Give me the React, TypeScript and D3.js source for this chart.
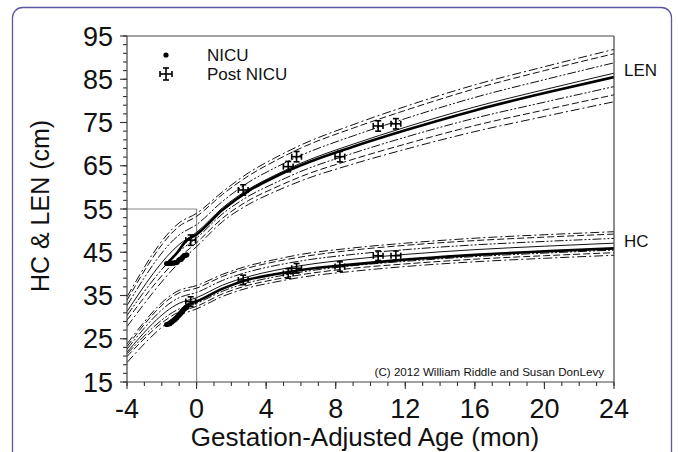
import React from "react";
import * as d3 from "d3";

// ---- Data ----
const pctAges = [-4, -1, 0, 1.5, 3, 4.5, 6, 9, 12, 16, 20, 24];

const len97 = [34.7, 51.8, 54.0, 59.0, 63.4, 66.8, 69.8, 74.5, 78.7, 83.7, 87.9, 91.9];
const len90 = [33.9, 51.0, 53.3, 58.4, 62.7, 66.1, 69.1, 73.7, 77.8, 82.8, 87.0, 90.9];
const len75 = [32.7, 49.0, 51.4, 56.8, 61.2, 64.5, 67.4, 71.9, 75.9, 80.8, 84.9, 88.8];
const len50 = [31.3, 46.8, 49.6, 55.3, 59.6, 62.8, 65.6, 70.0, 73.9, 78.6, 82.6, 86.4];
const len25 = [30.4, 45.2, 48.3, 53.9, 58.0, 61.0, 63.7, 67.9, 71.6, 76.0, 79.7, 83.3];
const len10 = [29.3, 43.8, 47.2, 52.9, 57.0, 59.9, 62.5, 66.5, 70.0, 74.3, 77.9, 81.4];
const len3 = [27.8, 42.6, 46.3, 52.1, 56.1, 59.0, 61.5, 65.4, 68.8, 72.9, 76.4, 79.8];

const hc97 = [23.8, 36.2, 37.3, 39.9, 41.9, 43.3, 44.5, 46.0, 47.1, 48.25, 49.05, 49.75];
const hc90 = [23.2, 35.6, 36.7, 39.4, 41.4, 42.8, 43.9, 45.5, 46.6, 47.7, 48.5, 49.2];
const hc75 = [22.6, 34.5, 35.7, 38.5, 40.5, 41.9, 43.0, 44.5, 45.6, 46.7, 47.5, 48.2];
const hc50 = [21.9, 33.2, 34.5, 37.4, 39.4, 40.8, 41.9, 43.4, 44.5, 45.6, 46.4, 47.1];
const hc25 = [21.5, 31.9, 33.2, 36.0, 38.0, 39.3, 40.4, 41.9, 42.9, 44.0, 44.8, 45.5];
const hc10 = [20.9, 31.2, 32.5, 35.4, 37.4, 38.7, 39.8, 41.3, 42.3, 43.4, 44.2, 44.9];
const hc3 = [19.5, 30.4, 31.9, 34.8, 36.8, 38.1, 39.2, 40.6, 41.7, 42.8, 43.6, 44.3];

// patient fitted curves (thick)
const fitAges = [-1.72, -1.2, -0.6, 0, 1.5, 3, 4.5, 6, 9, 12, 16, 20, 24];
const lenFit = [42.4, 44.5, 47.6, 49.1, 54.8, 59.2, 62.4, 65.1, 69.4, 73.2, 77.8, 81.8, 85.5];
const hcFit = [28.4, 30.1, 32.7, 33.6, 36.6, 38.7, 39.9, 40.9, 42.2, 43.3, 44.4, 45.2, 45.9];

// NICU daily measurements
const nicuAges = [-1.72, -1.62, -1.52, -1.42, -1.32, -1.22, -1.12, -1.02, -0.95, -0.88, -0.8, -0.72, -0.64, -0.56];
const nicuLen = [42.4, 42.4, 42.4, 42.5, 42.5, 42.6, 42.7, 43.2, 43.3, 43.4, 43.8, 44.2, 44.3, 44.4];
const nicuHc = [28.3, 28.4, 28.5, 28.9, 29.2, 29.5, 29.9, 30.4, 30.7, 31.0, 31.4, 31.8, 32.1, 32.3];

// Post NICU visits
const postAges = [-0.34, 2.68, 5.27, 5.75, 8.24, 10.44, 11.46];
const postLen = [47.8, 59.4, 64.8, 67.1, 67.1, 74.2, 74.7];
const postHc = [33.6, 38.6, 40.1, 41.3, 41.7, 44.2, 44.2];
const postAgeErr = [0.28, 0.28, 0.28, 0.28, 0.28, 0.28, 0.28];
const postLenErr = [1.2, 1.2, 1.2, 1.2, 1.2, 1.2, 1.2];
const postHcErr = [1.1, 1.1, 1.1, 1.1, 1.1, 1.1, 1.1];

const xTicks = [-4, 0, 4, 8, 12, 16, 20, 24];
const yTicks = [15, 25, 35, 45, 55, 65, 75, 85, 95];

const refAge = 0;
const refCm = 55;

// ---- Styles ----
const DASH_DOT = "9,3,2,3";
const DASHED = "7,3";
const DASH_DOT_DOT = "9,2,2,2,2,2";

const pctLines = [
  { len: len97, hc: hc97, dash: DASH_DOT },
  { len: len90, hc: hc90, dash: DASHED },
  { len: len75, hc: hc75, dash: DASH_DOT_DOT },
  { len: len50, hc: hc50, dash: null },
  { len: len25, hc: hc25, dash: DASH_DOT_DOT },
  { len: len10, hc: hc10, dash: DASHED },
  { len: len3, hc: hc3, dash: DASH_DOT },
];

const W = 678;
const H = 452;
const X0 = 127, X1 = 614, Y0 = 382, Y1 = 36;
const FONT = "'Liberation Sans', Arial, sans-serif";

export default function App() {
  const x = d3.scaleLinear().domain([-4, 24]).range([X0, X1]);
  const y = d3.scaleLinear().domain([15, 95]).range([Y0, Y1]);
  const line = d3
    .line<[number, number]>()
    .x((d) => x(d[0]))
    .y((d) => y(d[1]))
    .curve(d3.curveMonotoneX);

  const zip = (a: number[], b: number[]) => a.map((v, i) => [v, b[i]] as [number, number]);

  const xMinor = d3.range(-4, 24.001, 1);
  const yMinor = d3.range(15, 95.001, 2);

  const cross = (cx: number, cy: number, ex: number, ey: number, key: string) => {
    const px = x(cx), py = y(cy);
    const l = x(cx - ex), r = x(cx + ex);
    const t = y(cy + ey), b = y(cy - ey);
    const c = 3;
    return (
      <g key={key} stroke="#000" strokeWidth={1.6} fill="none">
        <line x1={l} x2={r} y1={py} y2={py} />
        <line x1={px} x2={px} y1={t} y2={b} />
        <line x1={l} x2={l} y1={py - c} y2={py + c} />
        <line x1={r} x2={r} y1={py - c} y2={py + c} />
        <line x1={px - c} x2={px + c} y1={t} y2={t} />
        <line x1={px - c} x2={px + c} y1={b} y2={b} />
      </g>
    );
  };

  return (
    <svg
      width={W}
      height={H}
      style={{ position: "absolute", left: 0, top: 0, background: "#fff" }}
      fontFamily={FONT}
    >
      <rect x={0} y={0} width={W} height={H} fill="#fff" />
      <rect x={12.5} y={7.5} width={659} height={470} rx={10} ry={10} fill="none" stroke="#5a58a0" strokeWidth={1.3} />

      <defs>
        <clipPath id="plot">
          <rect x={X0} y={Y1} width={X1 - X0} height={Y0 - Y1} />
        </clipPath>
      </defs>

      {/* reference lines */}
      <g stroke="#8a8a8a" strokeWidth={1.2}>
        <line x1={X0} x2={x(refAge)} y1={y(refCm)} y2={y(refCm)} />
        <line x1={x(refAge)} x2={x(refAge)} y1={y(refCm)} y2={Y0} />
      </g>

      <g clipPath="url(#plot)" fill="none" stroke="#111">
        {pctLines.map((p, i) => (
          <g key={i}>
            <path d={line(zip(pctAges, p.len)) || ""} strokeWidth={1} strokeDasharray={p.dash || undefined} />
            <path d={line(zip(pctAges, p.hc)) || ""} strokeWidth={1} strokeDasharray={p.dash || undefined} />
          </g>
        ))}
        <path d={line(zip(fitAges, lenFit)) || ""} strokeWidth={2.6} stroke="#000" />
        <path d={line(zip(fitAges, hcFit)) || ""} strokeWidth={2.6} stroke="#000" />
      </g>

      {/* NICU points */}
      <g fill="#000">
        {nicuAges.map((a, i) => (
          <circle key={"l" + i} cx={x(a)} cy={y(nicuLen[i])} r={2.6} />
        ))}
        {nicuAges.map((a, i) => (
          <circle key={"h" + i} cx={x(a)} cy={y(nicuHc[i])} r={2.6} />
        ))}
      </g>

      {/* Post NICU */}
      {postAges.map((a, i) => cross(a, postLen[i], postAgeErr[i], postLenErr[i], "pl" + i))}
      {postAges.map((a, i) => cross(a, postHc[i], postAgeErr[i], postHcErr[i], "ph" + i))}

      {/* frame */}
      <g stroke="#444" strokeWidth={1.2} fill="none">
        <line x1={X0} x2={X1} y1={Y1} y2={Y1} />
        <line x1={X1} x2={X1} y1={Y1} y2={Y0} />
        <line x1={X0} x2={X0} y1={Y1} y2={Y0} />
        <line x1={X0} x2={X1} y1={Y0} y2={Y0} />
      </g>

      {/* ticks */}
      <g stroke="#333" strokeWidth={1.1}>
        {xMinor.map((t) => (
          <line key={"xm" + t} x1={x(t)} x2={x(t)} y1={Y0} y2={Y0 + 4} />
        ))}
        {xTicks.map((t) => (
          <line key={"xM" + t} x1={x(t)} x2={x(t)} y1={Y0} y2={Y0 + 7} />
        ))}
        {yMinor.map((t) => (
          <line key={"ym" + t} x1={X0 - 4} x2={X0} y1={y(t)} y2={y(t)} />
        ))}
        {yTicks.map((t) => (
          <line key={"yM" + t} x1={X0 - 7} x2={X0} y1={y(t)} y2={y(t)} />
        ))}
      </g>

      <g fontSize={27} fill="#111" textAnchor="middle">
        {xTicks.map((t) => (
          <text key={"xt" + t} x={x(t)} y={418}>
            {t}
          </text>
        ))}
      </g>
      <g fontSize={27} fill="#111" textAnchor="end">
        {yTicks.map((t) => (
          <text key={"yt" + t} x={113} y={y(t) + 9.5}>
            {t}
          </text>
        ))}
      </g>

      <text x={365} y={446} fontSize={26} textAnchor="middle" fill="#111">
        Gestation-Adjusted Age (mon)
      </text>
      <text transform="translate(49,206) rotate(-90)" fontSize={25} textAnchor="middle" fill="#111">
        HC &amp; LEN (cm)
      </text>

      {/* legend */}
      <circle cx={166} cy={55} r={2.6} fill="#000" />
      <text x={207} y={61} fontSize={17} fill="#111">NICU</text>
      <g stroke="#000" strokeWidth={1.6}>
        <line x1={160} x2={172} y1={74} y2={74} />
        <line x1={166} x2={166} y1={68} y2={80} />
        <line x1={160} x2={160} y1={71} y2={77} />
        <line x1={172} x2={172} y1={71} y2={77} />
        <line x1={163} x2={169} y1={68} y2={68} />
        <line x1={163} x2={169} y1={80} y2={80} />
      </g>
      <text x={207} y={80} fontSize={17} fill="#111">Post NICU</text>

      <text x={624} y={76} fontSize={17} fill="#111">LEN</text>
      <text x={624} y={247} fontSize={17} fill="#111">HC</text>

      <text x={604} y={376} fontSize={11.6} textAnchor="end" fill="#111">
        (C) 2012 William Riddle and Susan DonLevy
      </text>
    </svg>
  );
}
